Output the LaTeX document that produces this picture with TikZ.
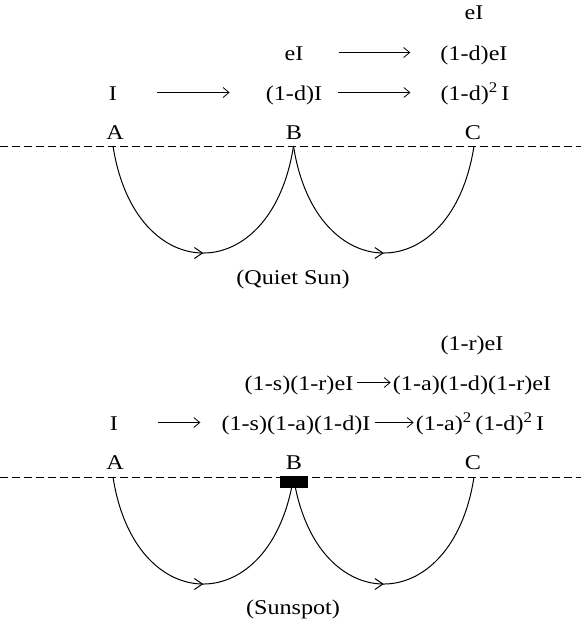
\documentclass[tikz,border=0pt]{standalone}
\usepackage{fontspec}
\setmainfont{Liberation Serif}[FakeStretch=1.15]
\usetikzlibrary{arrows.meta,decorations.markings}
\begin{document}
\begin{tikzpicture}[x=1pt,y=-1pt,
  lbl/.style={anchor=base,inner sep=0pt,text height=15pt,text depth=0pt,font=\fontsize{21}{25}\selectfont},
  larrow/.style={line width=0.8pt,-{Straight Barb[length=6pt,width=10pt,line width=0.8pt]}},
  surface/.style={line width=0.8pt,dash pattern=on 8pt off 4pt},
  fieldloop/.style={line width=1pt,postaction={decorate},
    decoration={markings,mark=at position 0.5 with {\arrow{Straight Barb[length=8pt,width=11pt,line width=1pt]}}}},
  spot/.style={fill=black,draw=none}]
\useasboundingbox (0,0) rectangle (581,626);

% ---------- Quiet Sun ----------
\coordinate (qA) at (113,146);
\coordinate (qB) at (293.5,146);
\coordinate (qC) at (474,146);
\coordinate (qL) at (0,146);
\coordinate (qR) at (581,146);
\draw[surface] (qL) -- (qR);
\draw[fieldloop] (qA) .. controls ([xshift=22pt,yshift=-142.7pt]qA) and ([xshift=-22pt,yshift=-142.7pt]qB) .. (qB);
\draw[fieldloop] (qB) .. controls ([xshift=22pt,yshift=-142.7pt]qB) and ([xshift=-22pt,yshift=-142.7pt]qC) .. (qC);

\node[lbl] (qt1) at (474,20) {eI};
\node[lbl] (qb2) at (294,60) {eI};
\node[lbl] (qc2) at (474,60) {(1-d)eI};
\node[lbl] (qa3) at (113,100) {I};
\node[lbl] (qb3) at (294,100) {(1-d)I};
\node[lbl] (qc3) at (475,100) {(1-d)\textsuperscript{2}\,I};
\node[lbl] (qlA) at (115,139) {A};
\node[lbl] (qlB) at (294,139) {B};
\node[lbl] (qlC) at (473,139) {C};
\node[lbl] (qcap) at (293,284) {(Quiet Sun)};

\draw[larrow,shorten <=40pt,shorten >=36pt] (qa3.east) -- (qb3.west);
\draw[larrow,shorten <=16pt,shorten >=30pt] (qb3.east) -- (qc3.west);
\draw[larrow,shorten <=35pt,shorten >=30pt] (qb2.east) -- (qc2.west);

% ---------- Sunspot ----------
\coordinate (sA) at (113,477);
\coordinate (sB) at (293.5,477);
\coordinate (sC) at (474,477);
\coordinate (sL) at (0,477);
\coordinate (sR) at (581,477);
\draw[surface] (sL) -- (sR);
\draw[fieldloop] (sA) .. controls ([xshift=22pt,yshift=-142.7pt]sA) and ([xshift=-22pt,yshift=-142.7pt]sB) .. (sB);
\draw[fieldloop] (sB) .. controls ([xshift=22pt,yshift=-142.7pt]sB) and ([xshift=-22pt,yshift=-142.7pt]sC) .. (sC);
\fill[spot] (280,476) rectangle (308,488);

\node[lbl] (st1) at (472,350) {(1-r)eI};
\node[lbl] (sb2) at (299,390) {(1-s)(1-r)eI};
\node[lbl] (sc2) at (472,390) {(1-a)(1-d)(1-r)eI};
\node[lbl] (sa3) at (114,430) {I};
\node[lbl] (sb3) at (296,430) {(1-s)(1-a)(1-d)I};
\node[lbl] (sc3) at (480,430) {(1-a)\textsuperscript{2}\,(1-d)\textsuperscript{2}\,I};
\node[lbl] (slA) at (115,469) {A};
\node[lbl] (slB) at (294,469) {B};
\node[lbl] (slC) at (473,469) {C};
\node[lbl] (scap) at (293,614) {(Sunspot)};

\draw[larrow,shorten <=40pt,shorten >=21pt] (sa3.east) -- (sb3.west);
\draw[larrow,shorten <=4pt,shorten >=2pt] (sb3.east) -- (sc3.west);
\draw[larrow,shorten <=3pt,shorten >=2pt] (sb2.east) -- (sc2.west);
\end{tikzpicture}
\end{document}
